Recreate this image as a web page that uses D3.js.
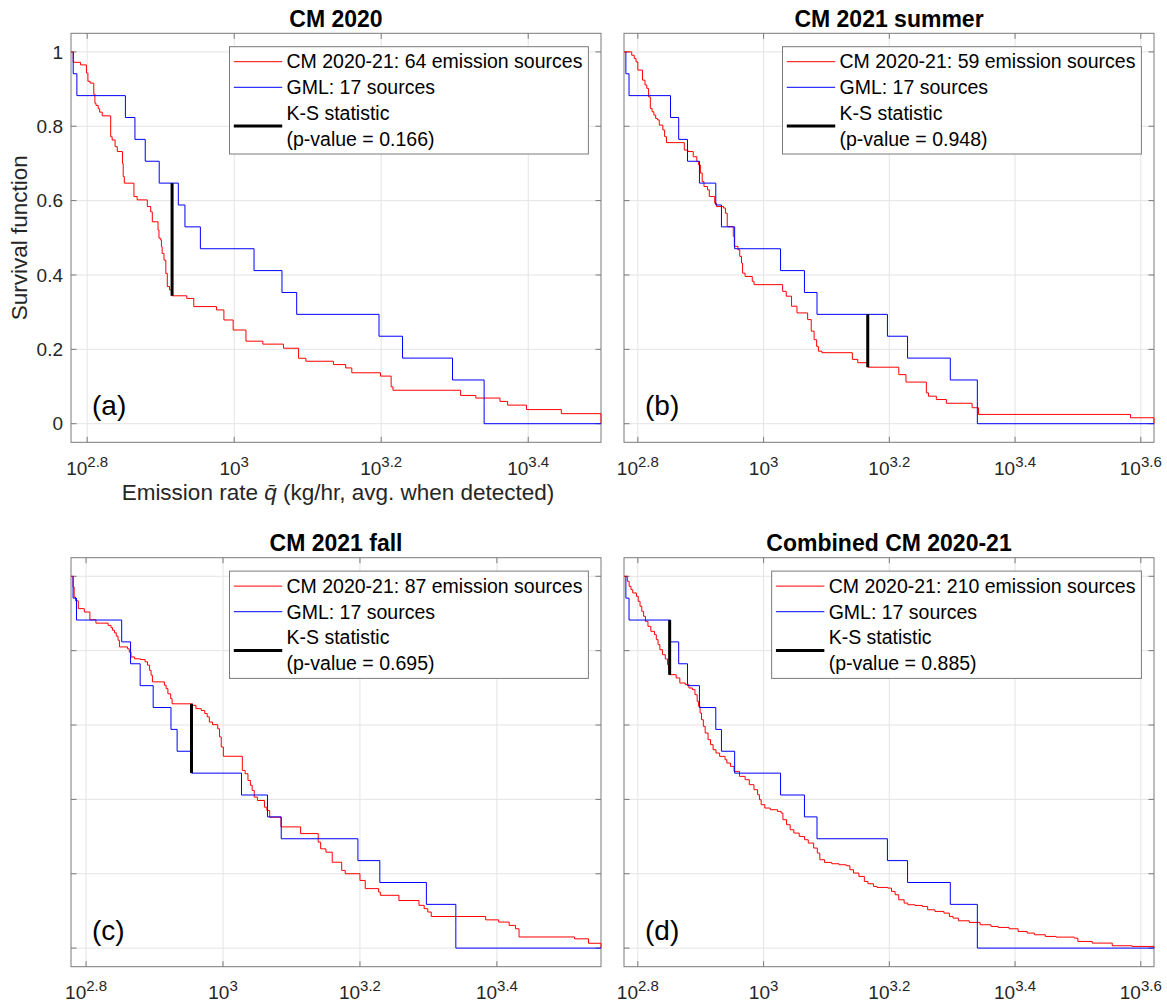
<!DOCTYPE html>
<html>
<head>
<meta charset="utf-8">
<script src="https://cdn.jsdelivr.net/npm/d3@7"></script>
<style>
  body { margin: 0; background: #fff; }
  svg { font-family: 'Liberation Sans', Arial, sans-serif; }
</style>
</head>
<body>
<div id="root"></div>
<script>
// Panel texts
const titles = ['CM 2020', 'CM 2021 summer', 'CM 2021 fall', 'Combined CM 2020-21'];
const letters = ['(a)', '(b)', '(c)', '(d)'];
const sourceCounts = [64, 59, 87, 210];
const pValues = ['0.166', '0.948', '0.695', '0.885'];

// GML emission rates, log10(kg/hr), 17 sources (same in every panel)
const gmlLog = [2.781, 2.786, 2.852, 2.865, 2.879, 2.898, 2.924, 2.933, 2.954,
  3.027, 3.065, 3.085, 3.197, 3.229, 3.297, 3.340, 3.340];

// CM survival curves: [log10(kg/hr), survival after the step]
const cm2020 = [
  [2.778, 1], [2.781, 0.972], [2.791, 0.965], [2.799, 0.943], [2.801, 0.921], [2.804, 0.916],
  [2.809, 0.886], [2.8105, 0.862], [2.812, 0.856], [2.815, 0.847], [2.817, 0.838], [2.8205, 0.828],
  [2.832, 0.772], [2.834, 0.763], [2.838, 0.745], [2.841, 0.732], [2.848, 0.700], [2.849, 0.665],
  [2.8505, 0.647], [2.8636, 0.611], [2.868, 0.602], [2.8818, 0.584], [2.8864, 0.570], [2.8886, 0.543],
  [2.8964, 0.521], [2.8977, 0.499], [2.900, 0.494], [2.901, 0.476], [2.902, 0.458], [2.9045, 0.440],
  [2.907, 0.404], [2.909, 0.369], [2.912, 0.360], [2.9155, 0.344], [2.9355, 0.337], [2.945, 0.315],
  [2.976, 0.306], [2.986, 0.279], [2.9986, 0.252], [3.016, 0.222], [3.039, 0.214], [3.067, 0.203],
  [3.0876, 0.176], [3.0975, 0.168], [3.135, 0.159], [3.1517, 0.150], [3.160, 0.137], [3.199, 0.128],
  [3.2135, 0.099], [3.216, 0.090], [3.308, 0.076], [3.3287, 0.069], [3.3616, 0.060], [3.372, 0.050],
  [3.3977, 0.038], [3.445, 0.027], [3.499, 0]
];

const cm2021Summer = [
  [2.778, 1], [2.7903, 0.991], [2.7943, 0.982], [2.7972, 0.973], [2.800, 0.951], [2.8074, 0.924],
  [2.8114, 0.911], [2.8142, 0.902], [2.8171, 0.879], [2.8199, 0.848], [2.8227, 0.839], [2.8256, 0.830],
  [2.8284, 0.821], [2.8313, 0.817], [2.8341, 0.803], [2.8398, 0.790], [2.8426, 0.772], [2.8455, 0.756],
  [2.8739, 0.736], [2.8796, 0.732], [2.8881, 0.718], [2.8938, 0.705], [2.8967, 0.696], [2.8995, 0.674],
  [2.9024, 0.651], [2.9052, 0.638], [2.9109, 0.629], [2.9137, 0.611], [2.9223, 0.593], [2.9251, 0.584],
  [2.9365, 0.580], [2.9393, 0.566], [2.9422, 0.530], [2.9518, 0.504], [2.9535, 0.477], [2.9592, 0.468],
  [2.9621, 0.450], [2.9649, 0.432], [2.9666, 0.405], [2.9706, 0.396], [2.982, 0.383], [2.9848, 0.374],
  [3.0303, 0.356], [3.036, 0.343], [3.0445, 0.316], [3.0531, 0.298], [3.0701, 0.280], [3.0758, 0.249],
  [3.0804, 0.226], [3.0844, 0.208], [3.0872, 0.195], [3.0929, 0.191], [3.1412, 0.173], [3.1498, 0.164],
  [3.1657, 0.152], [3.2151, 0.132], [3.2265, 0.112], [3.2589, 0.083], [3.2623, 0.074], [3.2748, 0.065],
  [3.2908, 0.055], [3.3317, 0.043], [3.3419, 0.025], [3.5836, 0.016], [3.621, 0]
];

const cm2021Fall = [
  [2.778, 1], [2.781, 0.971], [2.7826, 0.944], [2.7846, 0.934], [2.7887, 0.913], [2.7974, 0.904],
  [2.8056, 0.883], [2.8144, 0.874], [2.8323, 0.868], [2.8364, 0.862], [2.8385, 0.855], [2.8415, 0.848],
  [2.8441, 0.839], [2.8467, 0.828], [2.8487, 0.810], [2.8605, 0.805], [2.8631, 0.796], [2.8656, 0.783],
  [2.8708, 0.778], [2.8795, 0.776], [2.8862, 0.770], [2.8897, 0.761], [2.8928, 0.747], [2.8949, 0.734],
  [2.8969, 0.716], [2.9144, 0.707], [2.9169, 0.698], [2.9195, 0.684], [2.9236, 0.671], [2.9256, 0.657],
  [2.9554, 0.653], [2.9605, 0.644], [2.9682, 0.639], [2.9733, 0.631], [2.9769, 0.622], [2.980, 0.608],
  [2.9846, 0.601], [2.9923, 0.590], [2.9949, 0.568], [2.9974, 0.541], [3.0005, 0.516], [3.0282, 0.478],
  [3.0323, 0.469], [3.0364, 0.451], [3.040, 0.438], [3.0426, 0.424], [3.0456, 0.406], [3.0503, 0.397],
  [3.0605, 0.379], [3.0641, 0.370], [3.0682, 0.352], [3.0846, 0.326], [3.1133, 0.308], [3.139, 0.285],
  [3.1426, 0.267], [3.1503, 0.258], [3.1595, 0.231], [3.1733, 0.209], [3.1785, 0.200], [3.200, 0.182],
  [3.2077, 0.160], [3.2272, 0.151], [3.2297, 0.142], [3.2569, 0.128], [3.2862, 0.115], [3.2938, 0.106],
  [3.299, 0.097], [3.3041, 0.085], [3.3836, 0.076], [3.4026, 0.070], [3.4179, 0.061], [3.4272, 0.052],
  [3.4323, 0.030], [3.5133, 0.025], [3.5338, 0.013], [3.552, 0]
];

const cmCombined = [
  [2.778, 1], [2.7833, 0.9865], [2.7862, 0.9731], [2.7891, 0.9641], [2.7919, 0.9552], [2.7977, 0.9462],
  [2.8006, 0.9327], [2.8035, 0.9193], [2.8063, 0.9058], [2.8092, 0.8924], [2.8121, 0.8789], [2.8161, 0.8655],
  [2.8207, 0.852], [2.8265, 0.843], [2.8294, 0.8296], [2.8322, 0.8161], [2.8351, 0.8027], [2.8391, 0.7892],
  [2.8437, 0.7776], [2.8472, 0.7623], [2.8495, 0.7489], [2.8506, 0.7354], [2.861, 0.7265], [2.8668, 0.713],
  [2.8754, 0.7085], [2.8812, 0.6996], [2.8869, 0.6951], [2.8909, 0.6816], [2.8944, 0.6637], [2.8967, 0.6502],
  [2.899, 0.6323], [2.9013, 0.6143], [2.9042, 0.5964], [2.9071, 0.5785], [2.9117, 0.5605], [2.9157, 0.5471],
  [2.9197, 0.5336], [2.9243, 0.5247], [2.9301, 0.5157], [2.9387, 0.5067], [2.9416, 0.4978], [2.9473, 0.4888],
  [2.9531, 0.4753], [2.9617, 0.4619], [2.9707, 0.4529], [2.9773, 0.4395], [2.9847, 0.426], [2.9905, 0.4126],
  [2.9934, 0.3991], [2.9962, 0.3857], [3.002, 0.3767], [3.0106, 0.3722], [3.0222, 0.3677], [3.0279, 0.3632],
  [3.0308, 0.3453], [3.0366, 0.3318], [3.0423, 0.3184], [3.0481, 0.3094], [3.0567, 0.3004], [3.0653, 0.2915],
  [3.0711, 0.2825], [3.0797, 0.2691], [3.0855, 0.2556], [3.0895, 0.2377], [3.097, 0.2305], [3.1085, 0.2269],
  [3.12, 0.2242], [3.1315, 0.2215], [3.1373, 0.2108], [3.143, 0.2018], [3.1516, 0.1928], [3.1603, 0.1794],
  [3.166, 0.1731], [3.1747, 0.1659], [3.1804, 0.1632], [3.1977, 0.1614], [3.2035, 0.1525], [3.2092, 0.1435],
  [3.215, 0.13], [3.2236, 0.1211], [3.2294, 0.1166], [3.2409, 0.1148], [3.2524, 0.1121], [3.261, 0.1031],
  [3.2725, 0.0987], [3.2869, 0.0942], [3.2955, 0.0852], [3.3013, 0.0807], [3.3099, 0.0735], [3.3272, 0.0691],
  [3.3444, 0.0628], [3.3617, 0.0583], [3.3732, 0.0556], [3.3905, 0.052], [3.4049, 0.0448], [3.4193, 0.0404],
  [3.4308, 0.0359], [3.4481, 0.0314], [3.4653, 0.0296], [3.4941, 0.0269], [3.4999, 0.0179], [3.5229, 0.0135],
  [3.5546, 0.0063], [3.5862, 0.0045], [3.621, 0]
];

const cmSeries = [cm2020, cm2021Summer, cm2021Fall, cmCombined];

// K-S statistic segments
const ksLog = [2.9155, 3.1657, 2.954, 2.8506];
const ksLow = [0.344, 0.152, 0.471, 0.735];
const ksHigh = [0.647, 0.294, 0.657, 0.882];

// Ticks
const xTickExps = [2.8, 3, 3.2, 3.4, 3.6];
const yTicks = [0, 0.2, 0.4, 0.6, 0.8, 1];

// Layout
const width = 1167;
const height = 1004;
const panelLeft = [71, 624];
const panelTop = [33.3, 557.7];
const panelWidth = 530;
const panelHeight = 409;
const tickLen = 5.5;
const axisColor = '#7a7a7a';
const gridColor = '#e4e4e4';
const textColor = '#262626';

const svg = d3.select('#root')
  .append('svg')
  .attr('width', width)
  .attr('height', height);

const stepLine = (x, y) => d3.line()
  .x(d => x(10 ** d[0]))
  .y(d => y(d[1]))
  .curve(d3.curveStepAfter);

/**
 * Draw one survival panel
 * @param {Number} i panel index
 */
function drawPanel(i) {
  const left = panelLeft[i % 2];
  const top = panelTop[Math.floor(i / 2)];
  const right = left + panelWidth;
  const bottom = top + panelHeight;
  const cm = cmSeries[i];

  const logExtent = d3.extent(cm.map(d => d[0]).concat(gmlLog));
  const x = d3.scaleLog()
    .domain(logExtent.map(v => 10 ** v))
    .range([left, right]);
  const y = d3.scaleLinear()
    .domain([-0.05, 1.05])
    .range([bottom, top]);

  const exps = xTickExps.filter(e => e >= logExtent[0] && e <= logExtent[1]);
  const g = svg.append('g');

  // Grid
  g.selectAll('.gx').data(exps).enter()
    .append('line')
    .attr('x1', e => x(10 ** e)).attr('x2', e => x(10 ** e))
    .attr('y1', top).attr('y2', bottom)
    .attr('stroke', gridColor);
  g.selectAll('.gy').data(yTicks).enter()
    .append('line')
    .attr('x1', left).attr('x2', right)
    .attr('y1', d => y(d)).attr('y2', d => y(d))
    .attr('stroke', gridColor);

  // Box and inward ticks
  g.append('rect')
    .attr('x', left).attr('y', top)
    .attr('width', panelWidth).attr('height', panelHeight)
    .attr('fill', 'none')
    .attr('stroke', axisColor);

  exps.forEach(e => {
    const px = x(10 ** e);
    g.append('line').attr('x1', px).attr('x2', px).attr('y1', bottom).attr('y2', bottom - tickLen).attr('stroke', axisColor);
    g.append('line').attr('x1', px).attr('x2', px).attr('y1', top).attr('y2', top + tickLen).attr('stroke', axisColor);
  });
  yTicks.forEach(t => {
    const py = y(t);
    g.append('line').attr('x1', left).attr('x2', left + tickLen).attr('y1', py).attr('y2', py).attr('stroke', axisColor);
    g.append('line').attr('x1', right).attr('x2', right - tickLen).attr('y1', py).attr('y2', py).attr('stroke', axisColor);
  });

  // X tick labels 10^e
  exps.forEach(e => {
    const label = g.append('text')
      .attr('x', x(10 ** e))
      .attr('y', bottom + 32.7)
      .attr('text-anchor', 'middle')
      .attr('fill', textColor)
      .style('font-size', '19px');
    label.append('tspan').text('10');
    label.append('tspan')
      .attr('dy', -8.5)
      .style('font-size', '15px')
      .text(String(e));
  });

  // Y tick labels and axis labels only on the first panel
  if (i === 0) {
    g.selectAll('.ylab').data(yTicks).enter()
      .append('text')
      .attr('x', left - 8)
      .attr('y', d => y(d))
      .attr('dy', '0.35em')
      .attr('text-anchor', 'end')
      .attr('fill', textColor)
      .style('font-size', '19px')
      .text(d => String(d));

    g.append('text')
      .attr('transform', `translate(27,${(top + bottom) / 2}) rotate(-90)`)
      .attr('text-anchor', 'middle')
      .attr('fill', textColor)
      .style('font-size', '22.5px')
      .text('Survival function');

    const xl = g.append('text')
      .attr('x', (left + right) / 2 + 2)
      .attr('y', bottom + 57.7)
      .attr('text-anchor', 'middle')
      .attr('fill', textColor)
      .style('font-size', '22.5px');
    xl.append('tspan').text('Emission rate ');
    xl.append('tspan').style('font-style', 'italic').text('q\u0304');
    xl.append('tspan').text(' (kg/hr, avg. when detected)');
  }

  // Title
  g.append('text')
    .attr('x', (left + right) / 2)
    .attr('y', top - 6.6)
    .attr('text-anchor', 'middle')
    .attr('fill', '#000')
    .style('font-size', '23px')
    .style('font-weight', 'bold')
    .text(titles[i]);

  // Survival curves
  const line = stepLine(x, y);
  g.append('path')
    .datum(cm)
    .attr('d', line)
    .attr('fill', 'none')
    .attr('stroke', '#ff0000')
    .attr('stroke-width', 1);

  const n = gmlLog.length;
  const gmlPts = [[gmlLog[0], 1]]
    .concat(gmlLog.map((v, k) => [v, (n - k - 1) / n]))
    .concat([[logExtent[1], 0]]);
  g.append('path')
    .datum(gmlPts)
    .attr('d', line)
    .attr('fill', 'none')
    .attr('stroke', '#0000ff')
    .attr('stroke-width', 1);

  // K-S statistic
  g.append('line')
    .attr('x1', x(10 ** ksLog[i])).attr('x2', x(10 ** ksLog[i]))
    .attr('y1', y(ksLow[i])).attr('y2', y(ksHigh[i]))
    .attr('stroke', '#000')
    .attr('stroke-width', 3);

  // Panel letter
  g.append('text')
    .attr('x', left + 21)
    .attr('y', bottom - 27)
    .attr('fill', '#000')
    .style('font-size', '28px')
    .text(letters[i]);

  // Legend
  const legend = g.append('g');
  const box = legend.append('rect')
    .attr('fill', '#fff')
    .attr('stroke', axisColor);
  const rows = [
    `CM 2020-21: ${sourceCounts[i]} emission sources`,
    'GML: 17 sources',
    'K-S statistic',
    `(p-value = ${pValues[i]})`
  ];
  const texts = legend.selectAll('.lt').data(rows).enter()
    .append('text')
    .attr('fill', '#000')
    .style('font-size', '19.5px')
    .text(d => d);
  let maxW = 0;
  texts.each(function () { maxW = Math.max(maxW, this.getComputedTextLength()); });
  const boxW = maxW + 63;
  const boxH = 107.3;
  const bx = right - 12.6 - boxW;
  const by = top + 13.4;
  box.attr('x', bx).attr('y', by).attr('width', boxW).attr('height', boxH);
  texts
    .attr('x', bx + 57)
    .attr('y', (d, k) => by + 21.6 + k * 25.8);
  const samples = [['#ff0000', 1, 15], ['#0000ff', 1, 40.6], ['#000', 3, 79.3]];
  samples.forEach(([c, w, dy]) => {
    legend.append('line')
      .attr('x1', bx + 4.3).attr('x2', bx + 52.7)
      .attr('y1', by + dy).attr('y2', by + dy)
      .attr('stroke', c)
      .attr('stroke-width', w);
  });
}

[0, 1, 2, 3].forEach(drawPanel);
</script>
</body>
</html>
